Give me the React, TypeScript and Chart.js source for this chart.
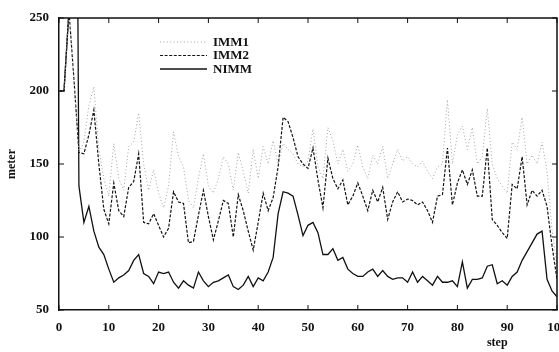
import React, { useEffect, useRef } from "react";
import { Chart, registerables } from "chart.js";

Chart.register(...registerables);

const seriesNames = ["IMM1", "IMM2", "NIMM"];

const IMM1 = [
  200, 200, 255, 208, 158, 165, 190, 203, 160, 140,
  128, 164, 140, 132, 162, 165, 185, 150, 132, 146,
  130, 120, 135, 172, 155, 148, 125, 120, 140, 157,
  135, 130, 140, 155, 150, 132, 158, 145, 130, 160,
  140, 162, 150, 166, 150, 164, 160, 157, 150, 148,
  152, 174, 148, 140, 175, 166, 150, 160, 145, 150,
  163, 148, 140, 156, 150, 162, 140, 150, 160, 152,
  155, 150, 148, 152, 145, 140, 148, 150, 194, 150,
  170, 176, 160, 175, 150, 155, 188, 150, 140, 135,
  130, 165, 160, 182, 150, 156, 150, 165, 145, 105,
  80,
];

const IMM2 = [
  200, 200, 255, 208, 158, 157, 170, 187, 150, 119,
  109, 137, 118, 114, 134, 138, 157, 110, 109, 116,
  108, 100, 106, 131, 124, 123, 96, 97, 115, 132,
  114, 98, 111, 125, 123, 100, 129, 118, 104, 91,
  110, 130, 118, 127, 148, 182, 179, 168, 155, 150,
  147, 161, 139, 120, 154, 140, 133, 139, 122, 128,
  137, 128, 118, 132, 124, 134, 112, 124, 131, 124,
  126, 125, 122, 124, 118, 110, 128, 129, 161, 122,
  137, 146, 136, 146, 128, 128, 161, 112, 108, 103,
  99, 136, 133, 155, 122, 132, 128, 132, 121, 94,
  71,
];

const NIMM = [
  200, 200, 255, 700, 135, 110, 121, 104, 93, 88,
  78, 69, 72, 74, 77, 84, 88, 75, 73, 68,
  76, 75, 76, 69, 65, 70, 67, 65, 76, 70,
  66, 69, 70, 72, 74, 66, 64, 67, 73, 66,
  72, 70, 76, 86, 116, 131, 130, 128, 115, 101,
  108, 110, 103, 88, 88, 92, 84, 86, 78, 75,
  73, 73, 76, 78, 73, 77, 73, 71, 72, 72,
  69, 76, 69, 73, 70, 67, 73, 69, 69, 70,
  66, 83, 65, 71, 71, 72, 80, 81, 68, 70,
  67, 73, 76, 84, 90, 96, 102, 104, 71, 63,
  59,
];

const xTicks = [0, 10, 20, 30, 40, 50, 60, 70, 80, 90, 100];
const yTicks = [50, 100, 150, 200, 250];
const xTitle = "step";
const yTitle = "meter";

const SERIF = '"Liberation Serif", "DejaVu Serif", serif';
const INK = "#111";

const styles = [
  { color: "#a2a2a2", width: 1, dash: [1, 2.4] },
  { color: "#141414", width: 1.2, dash: [3, 1.6] },
  { color: "#111", width: 1.3, dash: [] as number[] },
];

export default function App() {
  const ref = useRef<HTMLCanvasElement | null>(null);

  useEffect(() => {
    document.body.style.margin = "0";
    const canvas = ref.current;
    if (!canvas) return;
    const steps = NIMM.map((_, i) => i);
    const all = [IMM1, IMM2, NIMM];

    const framePlugin = {
      id: "frame",
      afterDraw(chart: any) {
        const { ctx, chartArea: a, scales } = chart;
        const xs = scales.x;
        const ys = scales.y;
        ctx.save();
        ctx.strokeStyle = INK;
        ctx.lineWidth = 1.5;
        ctx.setLineDash([]);
        ctx.beginPath();
        ctx.moveTo(a.left, a.top);
        ctx.lineTo(a.right, a.top);
        ctx.lineTo(a.right, a.bottom);
        ctx.stroke();
        ctx.lineWidth = 1;
        const tl = 5;
        xTicks.forEach((v) => {
          const px = xs.getPixelForValue(v);
          ctx.beginPath();
          ctx.moveTo(px, a.bottom);
          ctx.lineTo(px, a.bottom - tl);
          ctx.moveTo(px, a.top);
          ctx.lineTo(px, a.top + tl);
          ctx.stroke();
        });
        yTicks.forEach((v) => {
          const py = ys.getPixelForValue(v);
          ctx.beginPath();
          ctx.moveTo(a.left, py);
          ctx.lineTo(a.left + tl, py);
          ctx.moveTo(a.right, py);
          ctx.lineTo(a.right - tl, py);
          ctx.stroke();
        });
        const lx0 = a.left + 101;
        const lx1 = a.left + 148;
        const ly0 = a.top + 24;
        const lgap = 13.5;
        ctx.font = `bold 13px ${SERIF}`;
        ctx.fillStyle = INK;
        ctx.textBaseline = "middle";
        ctx.textAlign = "left";
        seriesNames.forEach((name, i) => {
          const st = styles[i];
          const y = ly0 + i * lgap;
          ctx.strokeStyle = st.color;
          ctx.lineWidth = st.width;
          ctx.setLineDash(st.dash);
          ctx.beginPath();
          ctx.moveTo(lx0, y);
          ctx.lineTo(lx1, y);
          ctx.stroke();
          ctx.fillText(name, lx1 + 6, y + 0.5);
        });
        ctx.setLineDash([]);
        ctx.font = `bold 12px ${SERIF}`;
        ctx.textAlign = "center";
        ctx.fillText(xTitle, a.left + (a.right - a.left) * 0.88, chart.height - 9);
        ctx.translate(12, (a.top + a.bottom) / 2);
        ctx.rotate(-Math.PI / 2);
        ctx.fillText(yTitle, 0, 0);
        ctx.restore();
      },
    };

    const chart = new Chart(canvas, {
      type: "line",
      data: {
        datasets: all.map((arr, i) => ({
          label: seriesNames[i],
          data: steps.map((s) => ({ x: s, y: arr[s] })),
          borderColor: styles[i].color,
          borderWidth: styles[i].width,
          borderDash: styles[i].dash,
          pointRadius: 0,
          tension: 0,
          fill: false,
        })),
      },
      options: {
        animation: false,
        responsive: false,
        maintainAspectRatio: false,
        layout: { padding: { top: 18, right: 2, left: 0, bottom: 0 } },
        plugins: { legend: { display: false }, tooltip: { enabled: false } },
        scales: {
          x: {
            type: "linear",
            min: 0,
            max: 100,
            afterBuildTicks: (s: any) => {
              s.ticks = xTicks.map((v) => ({ value: v }));
            },
            ticks: {
              color: INK,
              font: { family: SERIF, size: 13, weight: "bold" },
              maxRotation: 0,
              autoSkip: false,
              padding: 2,
            },
            grid: { display: false },
            border: { display: true, color: INK, width: 1.5 },
            afterFit: (s: any) => {
              s.height = 42;
              s.paddingLeft = 0;
              s.paddingRight = 0;
            },
          },
          y: {
            min: 50,
            max: 250,
            afterBuildTicks: (s: any) => {
              s.ticks = yTicks.map((v) => ({ value: v }));
            },
            ticks: {
              color: INK,
              font: { family: SERIF, size: 13, weight: "bold" },
              padding: 2,
            },
            grid: { display: false },
            border: { display: true, color: INK, width: 1.5 },
            afterFit: (s: any) => {
              s.width = 59;
              s.paddingTop = 0;
              s.paddingBottom = 0;
            },
          },
        },
      },
      plugins: [framePlugin],
    });
    return () => chart.destroy();
  }, []);

  return (
    <div style={{ width: 559, height: 352, background: "#fff" }}>
      <canvas ref={ref} width={559} height={352} style={{ display: "block" }} />
    </div>
  );
}
